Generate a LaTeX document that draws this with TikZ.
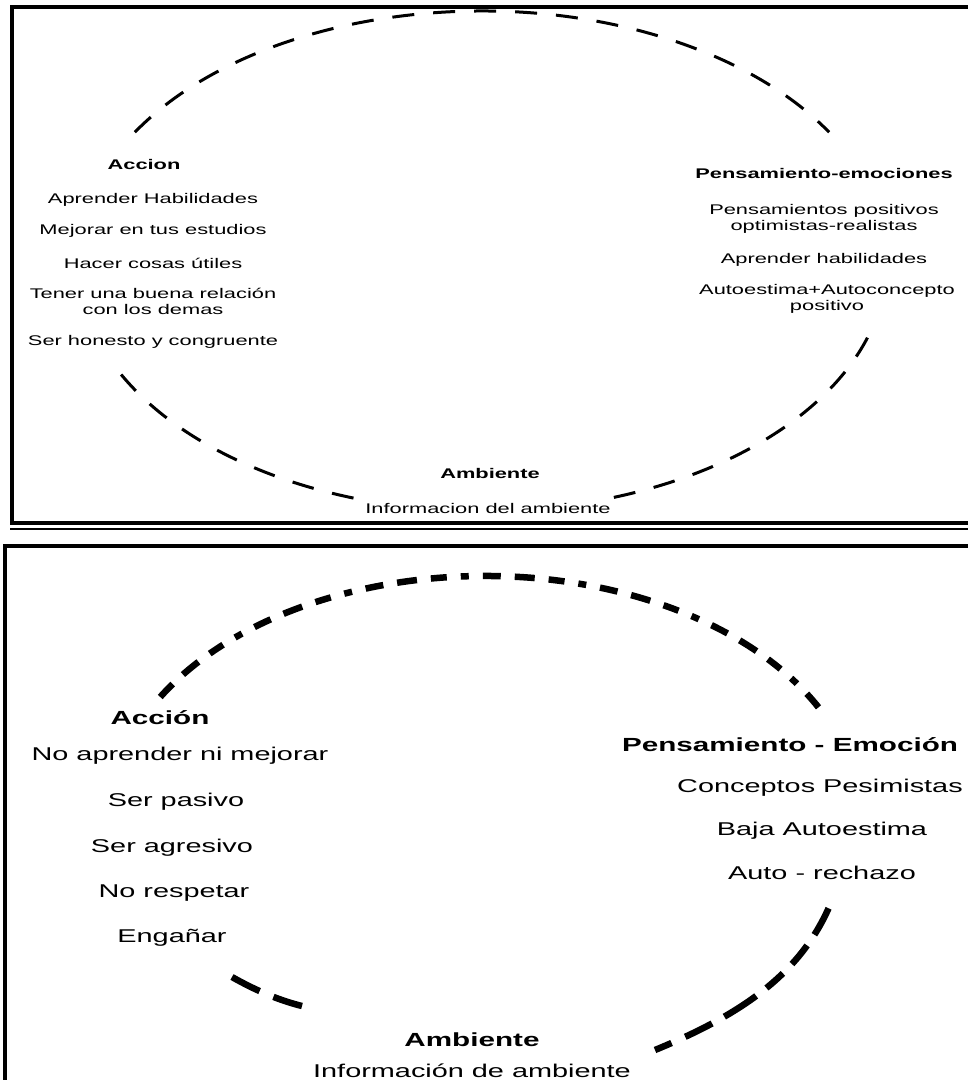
\documentclass[tikz,border=0pt]{standalone}
\usepackage{fontspec}
\setmainfont{Liberation Sans}[FakeStretch=1.56]
\begin{document}
\begin{tikzpicture}[x=1pt,y=-1pt,
  framestyle/.style={line width=4.2pt, line join=miter},
  thinframe/.style={line width=2.2pt},
  topring/.style={line width=3pt, dash pattern=on 22pt off 19pt},
  botring/.style={line width=6.5pt, dash pattern=on 18pt off 14pt on 20pt off 14pt on 16pt off 14pt on 8pt off 14pt},
  botshort/.style={line width=6.5pt, dash pattern=on 31pt off 15pt},
  botright/.style={line width=6.5pt, dash pattern=on 18pt off 15pt on 30pt off 14pt on 38pt off 13pt on 22pt off 13pt on 24pt off 13pt on 30pt},
  stxt/.style={anchor=base, inner sep=0pt, align=center, font=\fontsize{14}{15.5}\selectfont},
  shead/.style={anchor=base, inner sep=0pt, font=\fontsize{14}{15.5}\selectfont\bfseries},
  btxt/.style={anchor=base, inner sep=0pt, align=center, font=\fontsize{18.5}{21}\selectfont},
  bhead/.style={anchor=base, inner sep=0pt, font=\fontsize{19}{21}\selectfont\bfseries}]
\useasboundingbox (0,0) rectangle (968,1080);
\fill[white] (0,0) rectangle (968,1080);

% frames
\draw[framestyle] (968,7) -- (12.2,7) -- (12.2,523) -- (968,523);
\draw[thinframe] (10,528.6) -- (968,528.6);
\draw[framestyle] (968,546) -- (4.8,546) -- (4.8,1080);

% ---------- top panel ----------
\coordinate (c1) at (482,261);
\draw[topring] ([shift={(211:405 and 250)}]c1) arc[start angle=211, end angle=329, x radius=405, y radius=250];
\draw[topring] ([shift={(153:405 and 250)}]c1) arc[start angle=153, end angle=108, x radius=405, y radius=250];
\draw[topring] ([shift={(71:405 and 250)}]c1) arc[start angle=71, end angle=17, x radius=405, y radius=250];

\node[shead] (accion1) at (144,169) {Accion};
\node[stxt] (a1) at (153,203) {Aprender Habilidades};
\node[stxt] (a2) at (153,234) {Mejorar en tus estudios};
\node[stxt] (a3) at (153,268) {Hacer cosas útiles};
\node[stxt] (a4) at (153,314) {Tener una buena relación\\con los demas};
\node[stxt] (a5) at (153,345) {Ser honesto y congruente};

\node[shead] (pens1) at (824,178) {Pensamiento-emociones};
\node[stxt] (p1) at (824,230) {Pensamientos positivos\\optimistas-realistas};
\node[stxt] (p2) at (824,263) {Aprender habilidades};
\node[stxt] (p3) at (827,310) {Autoestima+Autoconcepto\\positivo};

\node[shead] (amb1) at (490,478) {Ambiente};
\node[stxt] (i1) at (488,513) {Informacion del ambiente};

% ---------- bottom panel ----------
\coordinate (c2) at (485,818);
\draw[botring] ([shift={(210:375 and 242)}]c2) arc[start angle=210, end angle=333, x radius=375, y radius=242];
\coordinate (ll1) at (232,977);
\coordinate (ll2) at (302,1006);
\draw[botshort] (ll1) .. controls (255,990) and (278,1000) .. (ll2);
\coordinate (lr1) at (655,1050);
\coordinate (lr2) at (830,905);
\draw[botright] (lr1) .. controls (740,1015) and (800,975) .. (lr2);

\node[bhead] (accion2) at (160,724) {Acción};
\node[btxt] (b1) at (180,760) {No aprender ni mejorar};
\node[btxt] (b2) at (176,806) {Ser pasivo};
\node[btxt] (b3) at (172,852) {Ser agresivo};
\node[btxt] (b4) at (174,897) {No respetar};
\node[btxt] (b5) at (172,942) {Engañar};

\node[bhead] (pens2) at (790,751) {Pensamiento - Emoción};
\node[btxt] (q1) at (820,792) {Conceptos Pesimistas};
\node[btxt] (q2) at (822,835) {Baja Autoestima};
\node[btxt] (q3) at (822,879) {Auto - rechazo};

\node[bhead] (amb2) at (472,1046) {Ambiente};
\node[btxt] (i2) at (472,1077) {Información de ambiente};
\end{tikzpicture}
\end{document}
